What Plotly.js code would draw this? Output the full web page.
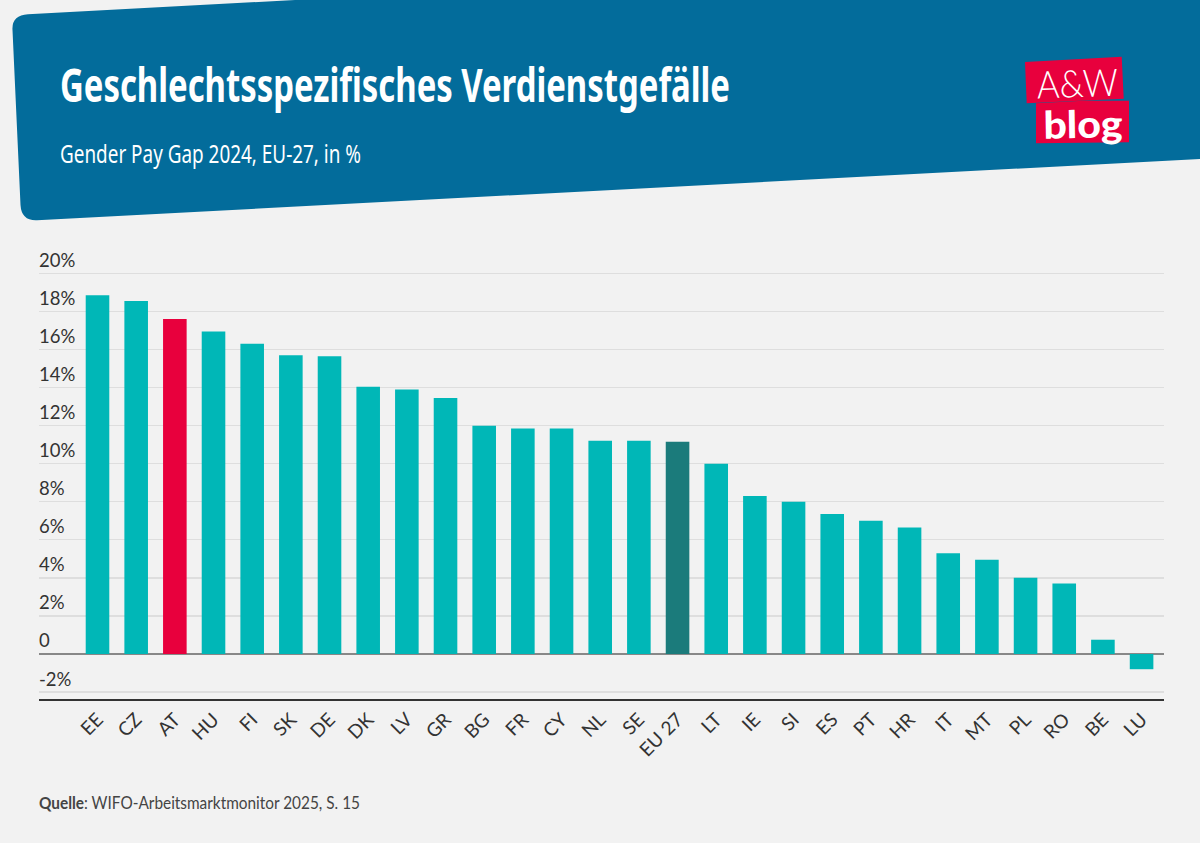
<!DOCTYPE html>
<html><head><meta charset="utf-8">
<script src="https://cdn.plot.ly/plotly-3.0.1.min.js"></script>
<style>html,body{margin:0;padding:0;background:#f2f2f2}#c{width:1200px;height:843px}</style>
</head><body><div id="c"></div>
<script>
const categories = ["EE","CZ","AT","HU","FI","SK","DE","DK","LV","GR","BG","FR","CY","NL","SE","EU 27","LT","IE","SI","ES","PT","HR","IT","MT","PL","RO","BE","LU"];
const gapValues = [18.85,18.55,17.6,16.95,16.3,15.7,15.65,14.05,13.9,13.45,12.0,11.85,11.85,11.2,11.2,11.15,10.0,8.3,8.0,7.35,7.0,6.65,5.3,4.95,4.0,3.7,0.75,-0.8];
const yTickVals = [-2,0,2,4,6,8,10,12,14,16,18,20];
const yTickText = ["-2%","0","2%","4%","6%","8%","10%","12%","14%","16%","18%","20%"];
const TEAL="#00b7b7", RED="#e8003d", DARK="#1b7b7b", BLUE="#036c9b", INK="#333333";
const W=1200,H=843;
const px=x=>x/W, py=y=>1-y/H;
const path=pts=>pts.map(c=>c[0]+(c.slice(1).map((v,i)=>i%2?py(v):px(v)).join(' '))).join(' ');
const shape=(d,color)=>({type:'path',xref:'paper',yref:'paper',layer:'below',line:{width:0},fillcolor:color,path:d});
const header=path([['M',12.5,30],['Q',11.5,15.5,28,14.3],['L',295,0],['L',1200,0],['L',1200,159],['L',37,220.3],['Q',21.5,221,20.5,205]])+' Z';
const logo1=path([['M',1025,62],['L',1121.7,56.7],['L',1123.7,98.7],['L',1026.7,103.3]])+' Z';
const logo2=path([['M',1036,103.3],['L',1083,100.7],['L',1129,100.7],['L',1129,142.3],['L',1036,143.3]])+' Z';
const note=(x,y,text,size,family,color,extra)=>{const a={xref:'paper',yref:'paper',x:px(x),y:py(y),text,showarrow:false,xanchor:'left',yanchor:'middle',align:'left',font:{size,family,color}};
  if(extra&&extra.weight)a.font.weight=extra.weight; if(extra&&extra.textangle)a.textangle=extra.textangle; return a;};
const BODY='Lato,"Noto Sans",sans-serif', HEAD='"Noto Sans",sans-serif';
const fits=[[60,670],[60,301],[39,321],[1036,81],[1043,79]];
const yTop=21.5, pxPer=19.03, yTopPx=654-yTop*pxPer;
Plotly.newPlot('c',[{
  type:'bar',x:categories,y:gapValues,width:0.61,
  marker:{color:categories.map(c=>c==="AT"?RED:c==="EU 27"?DARK:TEAL),line:{width:0}},
  hoverinfo:'x+y'
}],{
  width:W,height:H,margin:{l:0,r:0,t:0,b:0},paper_bgcolor:'#f2f2f2',plot_bgcolor:'#f2f2f2',
  showlegend:false,
  font:{family:BODY,color:INK,size:18.5},
  xaxis:{domain:[px(39),px(1164)],type:'category',range:[-1.513,27.58],tickangle:-45,ticks:'',showgrid:false,
    showline:true,linecolor:'#333333',linewidth:2,tickfont:{size:19,color:INK},automargin:false,categoryorder:'array',categoryarray:categories},
  yaxis:{domain:[py(699),py(yTopPx)],range:[-2.365,yTop],tickmode:'array',tickvals:yTickVals,ticktext:yTickText,
    ticklabelposition:'inside',ticklabelshift:-13,ticklabelstandoff:-3,gridcolor:'#dedede',gridwidth:1.3,zeroline:true,zerolinecolor:'#888888',zerolinewidth:1.5,
    showline:false,ticks:'',tickfont:{size:18.5,color:INK},automargin:false},
  shapes:[shape(header,BLUE),shape(logo1,RED),shape(logo2,RED)],
  annotations:[
    note(60,84,'Geschlechtsspezifisches Verdienstgefälle',46,HEAD,'#ffffff',{weight:700}),
    note(60,153,'Gender Pay Gap 2024, EU-27, in %',25,HEAD,'#ffffff'),
    note(39,802,'<b>Quelle</b>: WIFO-Arbeitsmarktmonitor 2025, S. 15',17,BODY,'#444444'),
    note(1036,82,'A&W',38,'Lato,sans-serif','#ffffff',{textangle:-2,weight:300}),
    note(1043,123,'blog',38,'Lato,sans-serif','#ffffff',{textangle:-1,weight:900})
  ]
},{displayModeBar:false,staticPlot:true}).then(gd=>{
  gd.querySelectorAll('.annotation').forEach((g,i)=>{
    const t=g.querySelector('text.annotation-text'); if(!t||!fits[i])return;
    t.setAttribute('textLength',fits[i][1]); t.setAttribute('lengthAdjust','spacingAndGlyphs');
    const r=t.getBoundingClientRect();
    t.setAttribute('transform','translate('+(fits[i][0]-r.left)+',0)');
  });
});
</script></body></html>
